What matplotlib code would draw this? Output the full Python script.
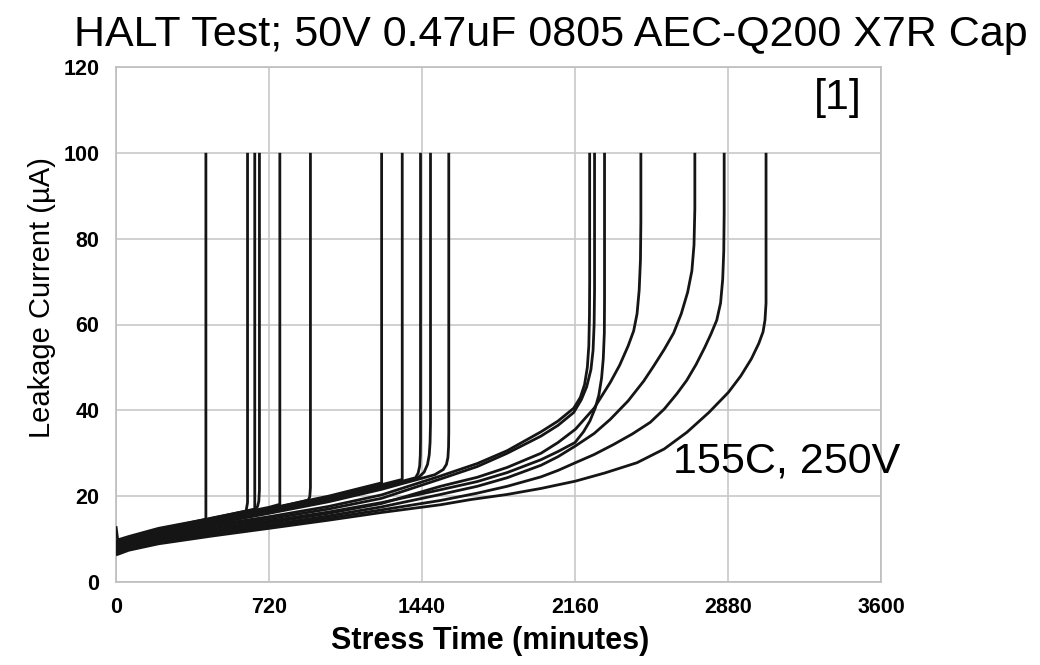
import matplotlib
matplotlib.use("Agg")
import matplotlib.pyplot as plt

plt.rcParams['font.family'] = ['Liberation Sans', 'DejaVu Sans']

# ---------------- data (stress time in minutes, leakage current in uA) ----------------
title = "HALT Test; 50V 0.47uF 0805 AEC-Q200 X7R Cap"
x_ticks = [0, 720, 1440, 2160, 2880, 3600]
y_ticks = [0, 20, 40, 60, 80, 100, 120]

# early failures (upper part of the band)
c423_t = [0, 8, 60, 200, 423, 423]
c423_i = [13.0, 9.8, 10.6, 12.5, 14.6, 100]
c619_t = [0, 60, 200, 450, 612, 619, 619]
c619_i = [9.5, 10.4, 12.2, 14.9, 16.5, 18.5, 100]
c653_t = [0, 60, 200, 450, 653, 653]
c653_i = [9.3, 10.2, 12.0, 14.8, 17.0, 100]
c675_t = [0, 60, 200, 450, 655, 666, 672, 675, 675]
c675_i = [9.0, 10.0, 11.8, 14.5, 16.9, 17.6, 18.8, 21.5, 100]
c771_t = [0, 60, 200, 450, 720, 771, 771]
c771_i = [9.1, 10.1, 11.9, 14.7, 17.4, 18.1, 100]
c915_t = [0, 60, 200, 450, 720, 905, 912, 915, 915]
c915_i = [8.8, 9.8, 11.6, 14.2, 16.9, 19.1, 19.9, 22.0, 100]
c1250_t = [0, 60, 200, 450, 720, 1000, 1250, 1250]
c1250_i = [8.9, 9.9, 11.7, 14.4, 17.1, 20.0, 23.1, 100]
c1347_t = [0, 60, 200, 450, 720, 1000, 1347, 1347]
c1347_i = [8.6, 9.6, 11.4, 14.0, 16.6, 19.5, 23.9, 100]
c1433_t = [0, 60, 200, 450, 720, 1000, 1250, 1410, 1422, 1429, 1432, 1433, 1433]
c1433_i = [8.5, 9.5, 11.3, 13.8, 16.4, 19.3, 22.2, 24.3, 25.4, 27.0, 29.5, 33.0, 100]
c1480_t = [0, 60, 200, 450, 720, 1000, 1250, 1420, 1450, 1466, 1474, 1478, 1480, 1480]
c1480_i = [8.4, 9.4, 11.2, 13.7, 16.2, 19.0, 21.8, 24.2, 25.6, 27.4, 29.6, 32.5, 37.0, 100]
c1566_t = [0, 60, 200, 450, 720, 1000, 1250, 1500, 1540, 1555, 1562, 1565, 1566, 1566]
c1566_i = [8.2, 9.2, 11.0, 13.5, 16.0, 18.7, 21.6, 25.0, 26.2, 27.4, 29.0, 31.5, 35.0, 100]

# late failures (lower part of the band, curving up)
c2229_t = [0, 60, 200, 450, 720, 1000, 1250, 1527, 1700, 1841, 2000, 2080, 2154, 2185, 2205, 2218, 2225, 2228, 2229, 2229]
c2229_i = [8.3, 9.4, 11.1, 13.2, 15.2, 17.6, 20.3, 24.7, 27.6, 30.6, 35.0, 37.5, 40.5, 43.0, 46.0, 50.0, 55.0, 62.0, 70.0, 100]
c2252_t = [0, 60, 200, 450, 720, 1000, 1250, 1527, 1700, 1841, 2000, 2080, 2154, 2190, 2215, 2235, 2245, 2250, 2252, 2252]
c2252_i = [8.0, 9.1, 10.7, 12.8, 14.7, 17.0, 19.5, 24.0, 26.9, 30.0, 34.0, 36.5, 39.5, 42.5, 45.5, 49.5, 54.0, 60.0, 68.0, 100]
c2299_t = [0, 60, 200, 450, 720, 1000, 1250, 1527, 1700, 1841, 2000, 2080, 2160, 2200, 2230, 2255, 2272, 2285, 2293, 2298, 2299, 2299]
c2299_i = [7.7, 8.7, 10.3, 12.3, 14.2, 16.3, 18.5, 21.5, 23.4, 25.5, 28.5, 30.4, 32.5, 35.0, 37.5, 40.5, 43.5, 47.5, 52.0, 58.0, 66.0, 100]
c2470_t = [0, 60, 200, 450, 720, 1000, 1250, 1527, 1700, 1841, 2000, 2080, 2162, 2250, 2326, 2370, 2410, 2436, 2452, 2462, 2468, 2470, 2470]
c2470_i = [7.4, 8.4, 10.0, 11.9, 13.8, 16.0, 18.3, 22.3, 24.4, 26.7, 30.0, 32.5, 35.6, 40.5, 46.5, 50.5, 55.0, 58.5, 62.5, 68.0, 75.0, 84.0, 100]
c2724_t = [0, 60, 200, 450, 720, 1000, 1250, 1527, 1700, 1841, 2000, 2080, 2162, 2250, 2326, 2410, 2483, 2530, 2580, 2624, 2660, 2690, 2710, 2720, 2724, 2724]
c2724_i = [7.0, 8.0, 9.6, 11.5, 13.3, 15.4, 17.5, 20.4, 22.3, 24.3, 27.2, 29.2, 31.7, 34.6, 37.9, 42.2, 46.8, 50.3, 54.2, 58.0, 62.5, 67.5, 72.5, 78.5, 87.0, 100]
c2862_t = [0, 60, 200, 450, 720, 1000, 1250, 1527, 1700, 1841, 2000, 2080, 2162, 2250, 2340, 2430, 2514, 2580, 2640, 2686, 2730, 2770, 2800, 2827, 2845, 2855, 2860, 2862, 2862]
c2862_i = [6.6, 7.7, 9.2, 11.1, 12.9, 14.9, 16.8, 19.0, 20.7, 22.3, 24.5, 26.0, 27.8, 29.7, 32.0, 34.5, 37.2, 40.3, 43.9, 47.0, 50.7, 54.6, 57.8, 61.0, 65.0, 70.5, 77.0, 86.0, 100]
c3059_t = [0, 60, 200, 450, 720, 1000, 1250, 1527, 1668, 1841, 2000, 2162, 2300, 2452, 2580, 2687, 2790, 2882, 2940, 2990, 3025, 3045, 3054, 3059, 3059]
c3059_i = [6.3, 7.4, 8.9, 10.7, 12.5, 14.4, 16.2, 18.0, 19.2, 20.4, 21.8, 23.5, 25.4, 27.8, 31.0, 34.9, 39.5, 44.2, 48.0, 52.0, 55.6, 58.3, 61.0, 65.0, 100]

curves = [
    (c423_t, c423_i), (c619_t, c619_i), (c653_t, c653_i), (c675_t, c675_i),
    (c771_t, c771_i), (c915_t, c915_i), (c1250_t, c1250_i), (c1347_t, c1347_i),
    (c1433_t, c1433_i), (c1480_t, c1480_i), (c1566_t, c1566_i),
    (c2229_t, c2229_i), (c2252_t, c2252_i), (c2299_t, c2299_i), (c2470_t, c2470_i),
    (c2724_t, c2724_i), (c2862_t, c2862_i), (c3059_t, c3059_i),
]

# ---------------- figure ----------------
W, H = 1040, 665
fig = plt.figure(figsize=(W / 100, H / 100), dpi=100)
ax = fig.add_axes([116 / W, 1 - 582 / H, 765 / W, 515 / H])

for t, i in curves:
    ax.plot(t, i, color='#151515', lw=2.0, solid_joinstyle='round', solid_capstyle='butt', zorder=3)

ax.set_xlim(0, 3600)
ax.set_ylim(0, 120)
ax.set_xticks(x_ticks)
ax.set_yticks(y_ticks)
ax.set_xticklabels([str(v) for v in x_ticks], fontsize=15.5, fontweight='bold')
ax.set_yticklabels([str(v) for v in y_ticks], fontsize=15.5, fontweight='bold')
ax.tick_params(axis='both', length=0)
ax.tick_params(axis='x', pad=11)
ax.tick_params(axis='y', pad=12)

ax.grid(True, color='#c8c8c8', lw=1.2, zorder=0)
for s in ax.spines.values():
    s.set_color('#bdbdbd')
    s.set_linewidth(1.2)

ax.set_xlabel("Stress Time (minutes)", fontsize=22, fontweight='bold')
ax.xaxis.set_label_coords(0.489, -0.085)
ax.xaxis.label.set_va('top')
ax.set_ylabel("Leakage Current (\u00b5A)", fontsize=21)
ax.yaxis.set_label_coords(-0.078, 0.553)

fig.text(551 / W, 1 - 35 / H, title, fontsize=31, ha='center', va='center')
fig.text(838 / W, 1 - 98 / H, "[1]", fontsize=31, ha='center', va='center')
fig.text(787 / W, 1 - 462 / H, "155C, 250V", fontsize=31, ha='center', va='center')

fig.savefig("out.png", dpi=100)
